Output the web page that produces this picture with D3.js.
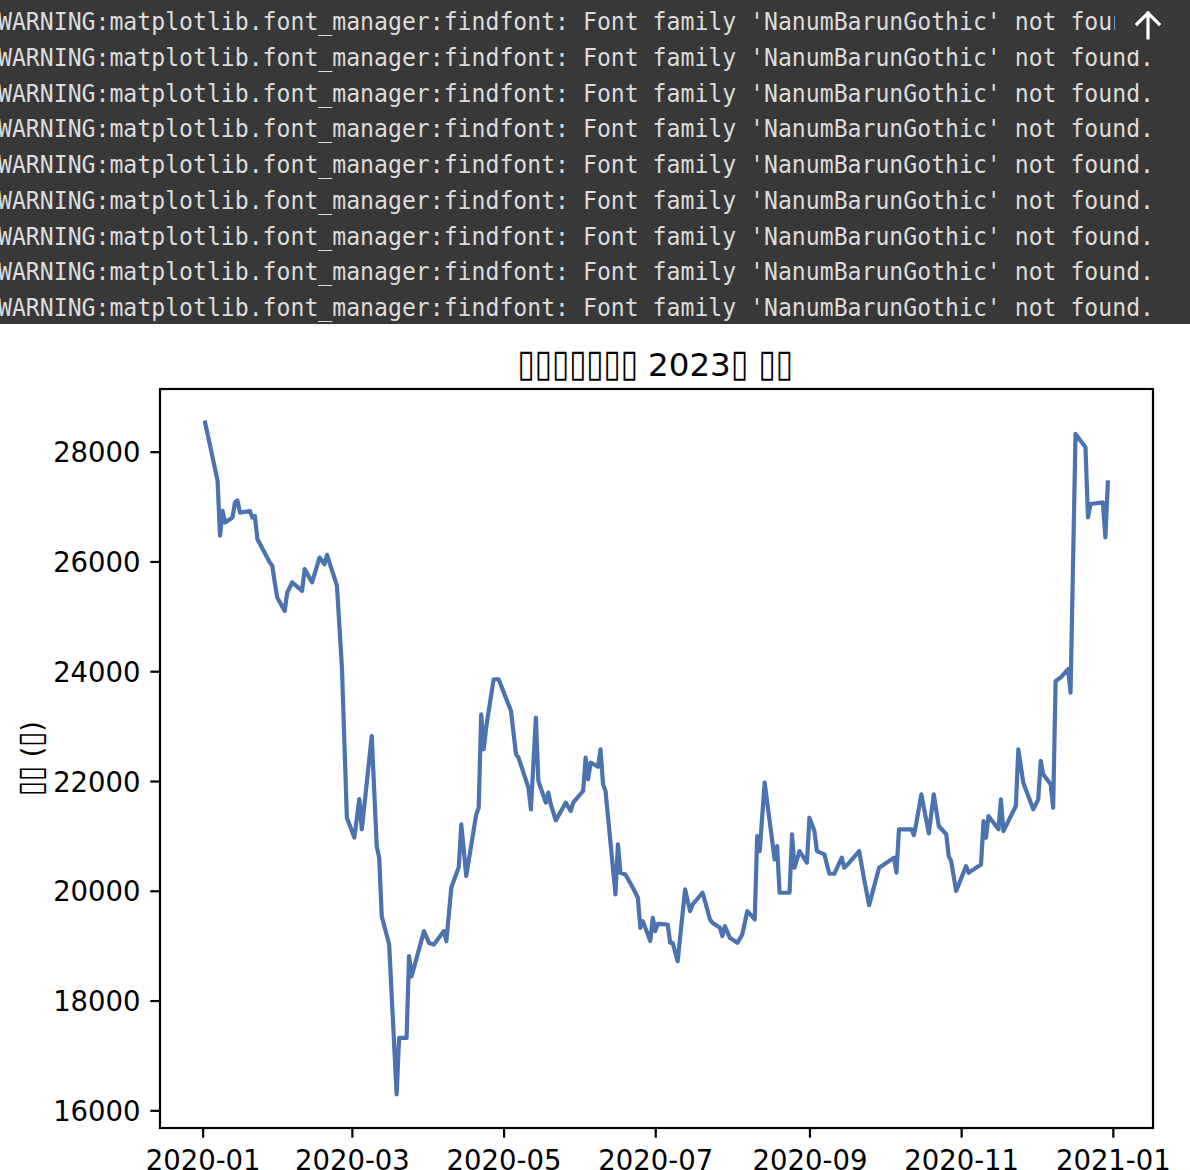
<!DOCTYPE html>
<html><head><meta charset="utf-8">
<script src="https://cdn.jsdelivr.net/npm/d3@7"></script>
<style>html,body{margin:0;padding:0;background:#fff;overflow:hidden}</style>
</head><body>
<svg id="c" width="1190" height="1170"></svg>
<script>
const warningLines = Array(9).fill("WARNING:matplotlib.font_manager:findfont: Font family 'NanumBarunGothic' not found.");
const titleText = "▯▯▯▯▯▯▯ 2023▯ ▯▯";
const yLabelText = "▯▯ (▯)";
const xTickLabels = ["2020-01","2020-03","2020-05","2020-07","2020-09","2020-11","2021-01"];
const yTickValues = [16000,18000,20000,22000,24000,26000,28000];

const dates = [
"2020-01-02","2020-01-07","2020-01-08","2020-01-09","2020-01-10","2020-01-13","2020-01-14","2020-01-15","2020-01-16","2020-01-20",
"2020-01-21","2020-01-22","2020-01-23","2020-01-28","2020-01-29","2020-01-30","2020-01-31","2020-02-03","2020-02-04","2020-02-06",
"2020-02-10","2020-02-11","2020-02-14","2020-02-17","2020-02-19","2020-02-20","2020-02-24","2020-02-26","2020-02-28","2020-03-02",
"2020-03-04","2020-03-05","2020-03-09","2020-03-11","2020-03-12","2020-03-13","2020-03-16","2020-03-19","2020-03-20","2020-03-23",
"2020-03-24","2020-03-25","2020-03-30","2020-04-01","2020-04-03","2020-04-07","2020-04-08","2020-04-10","2020-04-13","2020-04-14",
"2020-04-16","2020-04-20","2020-04-21","2020-04-22","2020-04-23","2020-04-24","2020-04-27","2020-04-29","2020-05-04","2020-05-06",
"2020-05-07","2020-05-11","2020-05-12","2020-05-14","2020-05-15","2020-05-18","2020-05-19","2020-05-20","2020-05-22","2020-05-26",
"2020-05-28","2020-05-29","2020-06-02","2020-06-03","2020-06-04","2020-06-05","2020-06-08","2020-06-09","2020-06-10","2020-06-11",
"2020-06-15","2020-06-16","2020-06-17","2020-06-19","2020-06-22","2020-06-24","2020-06-25","2020-06-26","2020-06-29","2020-06-30",
"2020-07-01","2020-07-02","2020-07-06","2020-07-07","2020-07-08","2020-07-10","2020-07-13","2020-07-15","2020-07-16","2020-07-20",
"2020-07-21","2020-07-23","2020-07-24","2020-07-27","2020-07-28","2020-07-29","2020-07-31","2020-08-03","2020-08-05","2020-08-07",
"2020-08-10","2020-08-11","2020-08-12","2020-08-14","2020-08-18","2020-08-19","2020-08-20","2020-08-24","2020-08-25","2020-08-26",
"2020-08-28","2020-08-31","2020-09-01","2020-09-03","2020-09-04","2020-09-07","2020-09-09","2020-09-11","2020-09-14","2020-09-15",
"2020-09-17","2020-09-21","2020-09-23","2020-09-25","2020-09-29","2020-10-05","2020-10-06","2020-10-07","2020-10-12","2020-10-13",
"2020-10-14","2020-10-16","2020-10-19","2020-10-21","2020-10-23","2020-10-26","2020-10-27","2020-10-28","2020-10-30","2020-11-03",
"2020-11-04","2020-11-06","2020-11-09","2020-11-10","2020-11-11","2020-11-12","2020-11-16","2020-11-17","2020-11-18","2020-11-23",
"2020-11-24","2020-11-26","2020-11-30","2020-12-02","2020-12-03","2020-12-04","2020-12-07","2020-12-08","2020-12-09","2020-12-11",
"2020-12-14","2020-12-15","2020-12-17","2020-12-21","2020-12-22","2020-12-23","2020-12-28","2020-12-29","2020-12-30"
];
const prices = [
28530,27470,26470,26920,26710,26800,27075,27110,26890,26920,
26800,26830,26410,25980,25920,25620,25340,25100,25430,25620,
25465,25860,25620,26070,25950,26120,25560,24070,21330,20970,
21670,21120,22820,20810,20600,19540,19020,16290,17320,17320,
18810,18440,19265,19050,19020,19265,19080,20060,20435,21210,
20270,21390,21514,23216,22578,22972,23854,23854,23277,22487,
22426,21879,21484,23155,22000,21605,21788,21575,21283,21605,
21453,21605,21818,22426,22031,22335,22260,22578,21940,21818,
19934,20846,20329,20298,20055,19873,19325,19447,19083,19508,
19265,19398,19386,19052,19052,18717,20025,19629,19750,19964,
19812,19478,19417,19325,19174,19356,19143,19052,19204,19629,
19478,20997,20723,21970,20572,20814,19964,19964,21027,20420,
20723,20511,21331,21088,20723,20663,20310,20310,20602,20420,
20511,20723,20207,19739,20420,20602,20329,21119,21119,21015,
21240,21757,21045,21757,21180,21030,20632,20540,19995,20450,
20329,20390,20480,21270,20966,21362,21119,21666,21088,21544,
22578,21970,21484,21666,22365,22122,21940,21514,23824,23884,
24036,23611,28323,28080,26802,27046,27076,26437,27440
];

const parse = d3.timeParse("%Y-%m-%d");
const data = dates.map((d,i)=>({date:parse(d), value:prices[i]}));

const svg = d3.select("#c");
const W = 1190;
const L = 160, R = 1153, T = 389, B = 1128;

// warnings block
svg.append("rect").attr("x",0).attr("y",0).attr("width",W).attr("height",324).attr("fill","#383838");
svg.append("g").selectAll("text").data(warningLines).join("text")
  .attr("x",-2).attr("y",(d,i)=>30+i*35.75)
  .attr("font-family","'DejaVu Sans Mono', monospace").attr("font-size",25)
  .attr("fill","#dcdcdc")
  .attr("textLength",1156).attr("lengthAdjust","spacingAndGlyphs")
  .text(d=>d);
svg.append("rect").attr("x",1115).attr("y",0).attr("width",75).attr("height",50).attr("fill","#383838");
svg.append("path").attr("d","M1148,38 L1148,13 M1137,24 L1148,13 L1159,24")
  .attr("fill","none").attr("stroke","#ffffff").attr("stroke-width",3.2).attr("stroke-linecap","square");

// scales
const [d0,d1] = d3.extent(data,d=>d.date);
const span = d1 - d0;
const x = d3.scaleTime().domain([new Date(+d0 - 0.05*span), new Date(+d1 + 0.05*span)]).range([L,R]);
const [v0,v1] = d3.extent(data,d=>d.value);
const vr = v1 - v0;
const y = d3.scaleLinear().domain([v0 - 0.05*vr, v1 + 0.05*vr]).range([B,T]);

const font = "'DejaVu Sans', sans-serif";

// x axis
const xTickDates = xTickLabels.map(s=>parse(s+"-01"));
const xAxis = svg.append("g").attr("transform",`translate(0,${B})`)
  .call(d3.axisBottom(x).tickValues(xTickDates).tickFormat((d,i)=>xTickLabels[i]).tickSizeOuter(0).tickSize(9.7).tickPadding(0));
xAxis.select(".domain").remove();
xAxis.selectAll(".tick line").attr("stroke","#000").attr("stroke-width",2.2);
xAxis.selectAll(".tick text").attr("font-family",font).attr("font-size",27.5).attr("fill","#000")
  .attr("dy",null).attr("y",42);

// y axis
const yAxis = svg.append("g").attr("transform",`translate(${L},0)`)
  .call(d3.axisLeft(y).tickValues(yTickValues).tickFormat(d3.format("d")).tickSizeOuter(0).tickSize(9.7).tickPadding(9.7));
yAxis.select(".domain").remove();
yAxis.selectAll(".tick line").attr("stroke","#000").attr("stroke-width",2.2);
yAxis.selectAll(".tick text").attr("font-family",font).attr("font-size",27.5).attr("fill","#000")
  .attr("dy",null).attr("y",10);

// line
const line = d3.line().x(d=>x(d.date)).y(d=>y(d.value));
svg.append("path").datum(data).attr("d",line)
  .attr("fill","none").attr("stroke","#4c72b0").attr("stroke-width",4.2)
  .attr("stroke-linejoin","round").attr("stroke-linecap","square");

// spines
svg.append("rect").attr("x",L).attr("y",T).attr("width",R-L).attr("height",B-T)
  .attr("fill","none").attr("stroke","#000").attr("stroke-width",2.2);

// split a string into runs of tofu boxes and other characters
function runs(s){
  const out=[]; let cur=null;
  for(const ch of s){
    const box = ch==="▯";
    if(!cur || cur.box!==box){ cur={box, t:""}; out.push(cur); }
    cur.t+=ch;
  }
  return out;
}
function writeText(sel, s, boxSize, boxAdv){
  runs(s).forEach(r=>{
    const ts = sel.append("tspan").text(r.t);
    if(r.box) ts.attr("font-size",boxSize).attr("textLength",[...r.t].length*boxAdv).attr("lengthAdjust","spacingAndGlyphs");
  });
}

// title
const title = svg.append("text").attr("x",655).attr("y",376).attr("text-anchor","middle")
  .attr("font-family",font).attr("font-size",32.5).attr("fill","#000");
writeText(title, titleText, 38, 17.2);

// y label
const yl = svg.append("text").attr("transform",`translate(42,${(T+B)/2}) rotate(-90)`)
  .attr("text-anchor","middle").attr("font-family",font).attr("font-size",27.5).attr("fill","#000");
writeText(yl, yLabelText, 35, 15);
</script>
</body></html>
